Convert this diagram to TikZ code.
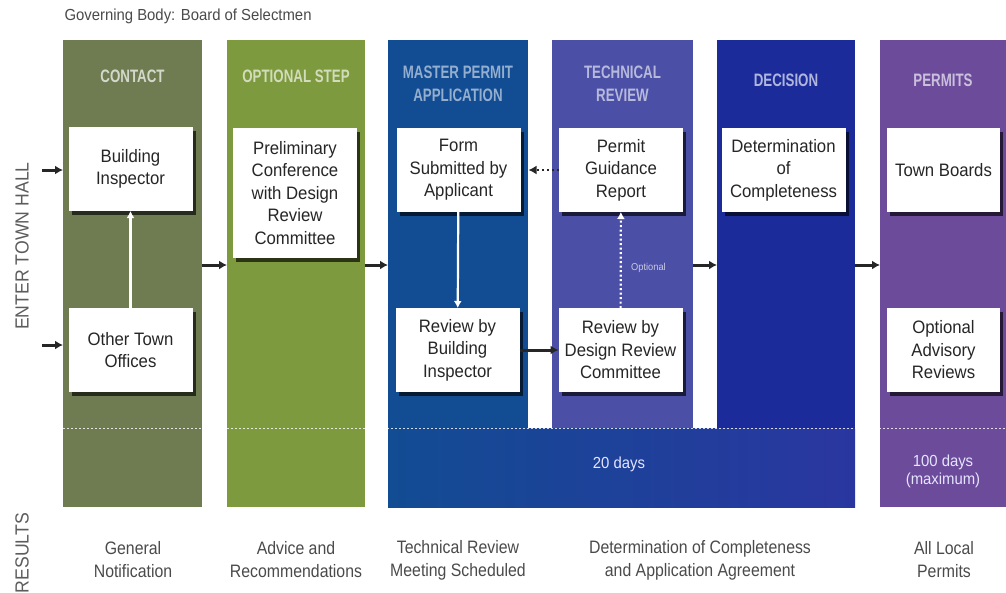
\documentclass[tikz,border=0pt]{standalone}
\usepackage{fontspec}
\setmainfont{Liberation Sans}
\newfontfamily\boxfont[FakeStretch=0.93]{Liberation Sans}
\newfontfamily\headfont[FakeStretch=0.74]{Liberation Sans}
\newfontfamily\resultfont[FakeStretch=0.88]{Liberation Sans}
\usetikzlibrary{arrows.meta,shadows}
\definecolor{contactc}{HTML}{6F7C52}
\definecolor{optionc}{HTML}{7E9A3E}
\definecolor{masterc}{HTML}{124C93}
\definecolor{techc}{HTML}{4B4FA6}
\definecolor{decisionc}{HTML}{1B2B9A}
\definecolor{permitc}{HTML}{6C4B9B}
\definecolor{bandmid}{HTML}{3A42A6}
\definecolor{bandend}{HTML}{2A36A0}
\definecolor{inkgray}{HTML}{4A4A4A}
\begin{document}
\begin{tikzpicture}[x=1pt, y=-1pt,
    col/.style={rectangle, inner sep=0pt, outer sep=0pt, anchor=north west},
    box/.style={rectangle, fill=white, inner sep=2pt, outer sep=0pt, align=center, minimum width=124pt, minimum height=84pt,
        font=\boxfont\fontsize{18}{22.5}\selectfont, text=black!85,
        drop shadow={shadow xshift=3pt, shadow yshift=-3.5pt, opacity=.65, fill=black}},
    head/.style={align=center, font=\headfont\bfseries\fontsize{18}{23}\selectfont},
    result/.style={align=center, text=inkgray, font=\resultfont\fontsize{18}{23}\selectfont},
    side/.style={rotate=90, text=inkgray!90, font=\boxfont\fontsize{19}{19}\selectfont},
    days/.style={align=center, text=white!90!blue, font=\boxfont\fontsize{16}{18}\selectfont},
    flow/.style={-{Latex[length=8pt,width=9pt]}, line width=3pt, black!85},
    lift/.style={-{Latex[length=7pt,width=8pt]}, line width=2.2pt, white},
    daysline/.style={white, line width=1pt, dash pattern=on 2pt off 2pt, opacity=.8}
]
\useasboundingbox (0,0) rectangle (1006,592);

% columns
\node[col, fill=contactc, minimum width=139pt, minimum height=467pt] (contact) at (63,40) {};
\node[col, fill=optionc, minimum width=138pt, minimum height=467pt] (option) at (227,40) {};
\node[col, fill=masterc, minimum width=140pt, minimum height=388pt] (master) at (388,40) {};
\node[col, fill=techc, minimum width=141pt, minimum height=388pt] (tech) at (552,40) {};
\node[col, fill=decisionc, minimum width=138pt, minimum height=388pt] (decision) at (717,40) {};
\node[col, left color=masterc, middle color=bandmid, right color=bandend, minimum width=467pt, minimum height=79pt] (band) at (388,428) {};
\node[col, fill=permitc, minimum width=130pt, minimum height=467pt] (permits) at (880,40) {};
\draw[daysline] (contact.west |- band.north) -- (permits.east |- band.north);

% headers
\node[head, text=contactc!30!white] (hcontact) at (132.5,76) {CONTACT};
\node[head, text=optionc!35!white] (hoption) at (296,76) {OPTIONAL STEP};
\node[head, text=masterc!45!white] (hmaster) at (458,84) {MASTER PERMIT\\APPLICATION};
\node[head, text=techc!40!white] (htech) at (622.5,84) {TECHNICAL\\REVIEW};
\node[head, text=decisionc!35!white] (hdecision) at (786,80) {DECISION};
\node[head, text=permitc!35!white] (hpermits) at (943,80) {PERMITS};

% steps
\node[box] (insp) at (130.5,169) {Building\\Inspector};
\node[box] (others) at (130.5,350) {Other Town\\Offices};
\node[box, minimum height=130pt] (prelim) at (295,193) {Preliminary\\Conference\\with Design\\Review\\Committee};
\node[box] (form) at (458.5,170) {Form\\Submitted by\\Applicant};
\node[box] (rinsp) at (457.5,350) {Review by\\Building\\Inspector};
\node[box] (guide) at (621,170) {Permit\\Guidance\\Report};
\node[box] (rdrc) at (620.5,350) {Review by\\Design Review\\Committee};
\node[box] (complete) at (783.5,170) {Determination\\of\\Completeness};
\node[box, minimum width=113pt] (boards) at (943.5,170) {Town Boards};
\node[box, minimum width=113pt] (advisory) at (943.5,350) {Optional\\Advisory\\Reviews};

\node[days] (d20) at (619,464) {20 days};
\node[days] (d100) at (943,471) {100 days\\(maximum)};

% side and top texts
\node[anchor=west, text=inkgray, font=\boxfont\fontsize{16}{18}\selectfont] (body) at (61,16) {Governing Body: Board of Selectmen};
\node[side] (enter) at (22,246) {ENTER TOWN HALL};
\node[side] (results) at (22,553) {RESULTS};

% results
\node[result] (r1) at (133,560) {General\\Notification};
\node[result] (r2) at (296,560) {Advice and\\Recommendations};
\node[result] (r3) at (458,560) {Technical Review\\Meeting Scheduled};
\node[result] (r4) at (700,560) {Determination of Completeness\\and Application Agreement};
\node[result] (r5) at (944,560) {All Local\\Permits};

% connectors
\coordinate (in1) at (42,170);
\coordinate (in2) at (42,345);
\coordinate (row) at (0,265);
\draw[flow] (in1) -- (contact.west |- in1);
\draw[flow] (in2) -- (contact.west |- in2);
\draw[flow] (contact.east |- row) -- (option.west |- row);
\draw[flow] (option.east |- row) -- (master.west |- row);
\draw[flow] (tech.east |- row) -- (decision.west |- row);
\draw[flow] (decision.east |- row) -- (permits.west |- row);
\draw[flow] (rinsp) -- (rdrc);
\draw[flow, line width=2.4pt, dash pattern=on 2.5pt off 2.5pt, shorten >=8pt] (guide) -- (form);
\draw[lift] (others) -- (insp);
\draw[lift] (form) -- (rinsp);
\draw[lift, dash pattern=on 2pt off 2.5pt] (rdrc) -- node[pos=.42, right=6pt, text=techc!30!white, font=\boxfont\fontsize{10}{12}\selectfont] {Optional} (guide);
\end{tikzpicture}
\end{document}
